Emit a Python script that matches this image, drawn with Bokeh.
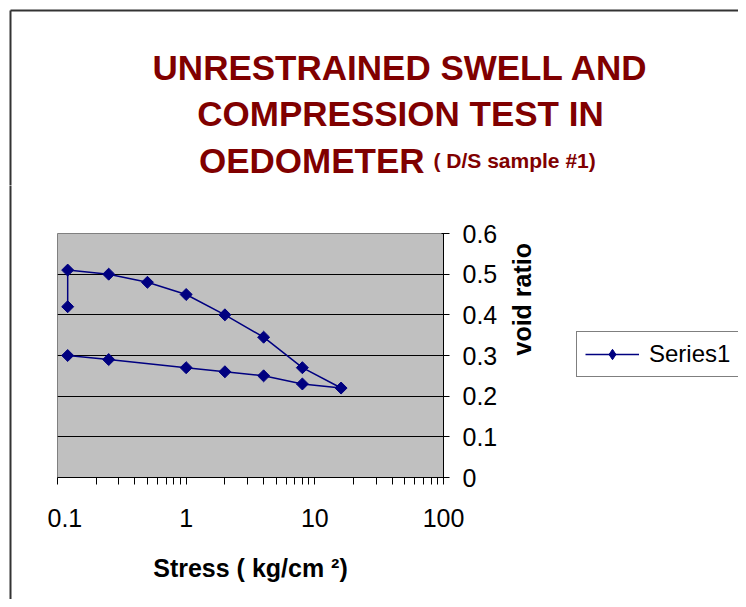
import math
from bokeh.plotting import figure
from bokeh.layouts import column, row
from bokeh.models import (Range1d, FixedTicker, CustomJSTickFormatter, Legend,
                          LegendItem, ColumnDataSource)
from bokeh.core.properties import value
from bokeh.embed import file_html
from bokeh.resources import INLINE

# ---- data ----
stress = [0.12, 0.12, 0.25, 0.5, 1, 2, 4, 8, 16, 8, 4, 2, 1, 0.25, 0.12]
void_ratio = [0.42, 0.51, 0.50, 0.48, 0.45, 0.40, 0.345, 0.27, 0.22, 0.23, 0.25, 0.26, 0.27, 0.29, 0.30]
x_major_ticks = [0.1, 1, 10, 100]
x_minor_ticks = [m * d for d in (0.1, 1, 10) for m in range(2, 10)]
y_ticks = [0, 0.1, 0.2, 0.3, 0.4, 0.5, 0.6]
y_grid_values = [0.1, 0.2, 0.3, 0.4, 0.5]
title_lines = ["UNRESTRAINED SWELL AND", "COMPRESSION TEST IN", "OEDOMETER"]
title_note = "( D/S sample #1)"
x_label = "Stress ( kg/cm \u00b2)"
y_label = "void ratio"
series_name = "Series1"

FONT = "Liberation Sans"
NAVY = "#000080"
TITLE_RED = "#800000"
BORDER = "#333333"

W, H = 738, 599
TOP_H = 185          # height of the title strip
LEFT_W = 47          # width of the left border strip
MAIN_W = 506         # main chart (frame 386 px + axes)
LEG_W = W - LEFT_W - MAIN_W


def blank_fig(w, h):
    f = figure(width=w, height=h, title=None, x_range=Range1d(0, w), y_range=Range1d(h, 0),
               x_axis_location=None, y_axis_location=None, min_border=0,
               outline_line_color=None, toolbar_location=None, output_backend="svg",
               background_fill_color="white", border_fill_color="white", frame_align=False)
    f.grid.visible = False
    return f


# ---------------- title strip ----------------
tf = blank_fig(W, TOP_H)
tf.text(x=[400, 400], y=[67, 113], text=title_lines[:2], text_align="center",
        text_baseline="alphabetic", text_font=value(FONT), text_font_style=value("bold"),
        text_font_size=value("35px"), text_color=TITLE_RED)
tf.text(x=[424], y=[160], text=[title_lines[2]], text_align="right",
        text_baseline="alphabetic", text_font=value(FONT), text_font_style=value("bold"),
        text_font_size=value("35px"), text_color=TITLE_RED)
tf.text(x=[433], y=[160], text=[title_note], text_align="left",
        text_baseline="alphabetic", text_font=value(FONT), text_font_style=value("bold"),
        text_font_size=value("21px"), text_color=TITLE_RED)
# chart-area border (top and left edges)
tf.segment(x0=[10, 10], y0=[10, 10], x1=[W + 10, 10], y1=[10, TOP_H + 10],
           line_color=BORDER, line_width=2)

# ---------------- left border strip ----------------
sf = blank_fig(LEFT_W, H - TOP_H)
sf.segment(x0=[10], y0=[-10], x1=[10], y1=[H], line_color=BORDER, line_width=2)

# ---------------- main chart ----------------
p = figure(width=MAIN_W, height=H - TOP_H, title=None, x_axis_type="log",
           y_axis_location="right",
           x_range=Range1d(0.1, 100), y_range=Range1d(0, 0.6),
           output_backend="svg", toolbar_location=None, frame_align=False,
           min_border_left=10, min_border_top=233 - TOP_H, min_border_right=110,
           min_border_bottom=122,
           background_fill_color="#C0C0C0", border_fill_color="white",
           outline_line_color="#808080", outline_line_width=1)

xa = p.xaxis[0]
xa.ticker = FixedTicker(ticks=x_major_ticks, minor_ticks=x_minor_ticks)
xa.formatter = CustomJSTickFormatter(code="return tick.toString();")
xa.major_tick_in = 0
xa.major_tick_out = 7
xa.minor_tick_in = 0
xa.minor_tick_out = 7
xa.axis_line_color = "black"
xa.major_tick_line_color = "black"
xa.minor_tick_line_color = "black"
xa.major_label_text_font = FONT
xa.major_label_text_font_size = "25px"
xa.major_label_text_color = "black"
xa.major_label_standoff = 24
xa.axis_label = x_label
xa.axis_label_text_font = FONT
xa.axis_label_text_font_style = "bold"
xa.axis_label_text_font_size = "25px"
xa.axis_label_text_color = "black"
xa.axis_label_standoff = 24

ya = p.yaxis[0]
ya.ticker = FixedTicker(ticks=y_ticks, minor_ticks=[])
ya.formatter = CustomJSTickFormatter(code="return Number(tick.toFixed(1)).toString();")
ya.major_tick_in = 2
ya.major_tick_out = 6
ya.minor_tick_in = 0
ya.minor_tick_out = 0
ya.axis_line_color = "black"
ya.major_tick_line_color = "black"
ya.major_label_text_font = FONT
ya.major_label_text_font_size = "25px"
ya.major_label_text_color = "black"
ya.major_label_standoff = 13
ya.axis_label = y_label
ya.axis_label_text_font = FONT
ya.axis_label_text_font_style = "bold"
ya.axis_label_text_font_size = "25px"
ya.axis_label_text_color = "black"
ya.axis_label_standoff = 22
ya.axis_label_orientation = math.pi / 2

p.xgrid.visible = False
p.ygrid.ticker = FixedTicker(ticks=y_grid_values)
p.ygrid.grid_line_color = "black"
p.ygrid.grid_line_width = 1

src = ColumnDataSource(dict(x=stress, y=void_ratio))
p.line("x", "y", source=src, line_color=NAVY, line_width=1.5)
p.scatter("x", "y", source=src, marker="square", size=8.5, angle=math.pi / 4,
          fill_color=NAVY, line_color=NAVY)

# ---------------- legend strip ----------------
lf = blank_fig(LEG_W, H - TOP_H)
# legend keys (placed outside the visible range, only their legend glyphs show)
key_line = lf.line(x=[-50, -40], y=[-50, -40], line_color=NAVY, line_width=1.5)
key_mark = lf.scatter(x=[-50], y=[-50], marker="diamond", size=10,
                      fill_color=NAVY, line_color=NAVY)
legend = Legend(items=[LegendItem(label=series_name, renderers=[key_line, key_mark])],
                location=(23, 222), orientation="vertical")
legend.label_text_font = FONT
legend.label_text_font_size = "24px"
legend.label_text_color = "black"
legend.border_line_color = "black"
legend.border_line_width = 1
legend.background_fill_color = "white"
legend.background_fill_alpha = 1
legend.padding = 8
legend.margin = 0
legend.spacing = 0
legend.glyph_width = 54
legend.glyph_height = 26
legend.label_standoff = 10
lf.add_layout(legend, "center")

layout = column(tf, row(sf, p, lf))
open("out.html", "w").write(file_html(layout, INLINE))
